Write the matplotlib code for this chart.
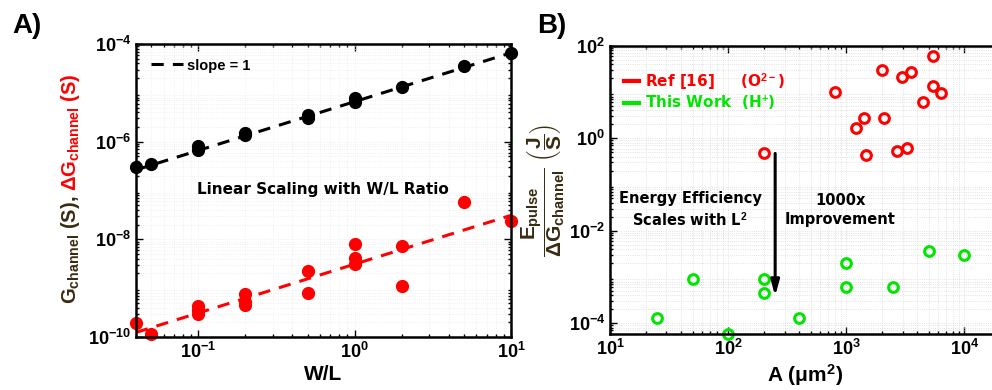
import matplotlib
matplotlib.use("Agg")
import matplotlib.pyplot as plt
from matplotlib.lines import Line2D
from matplotlib.ticker import FuncFormatter
import numpy as np

plt.rcParams["font.family"] = "Liberation Sans"
plt.rcParams["font.weight"] = "bold"
plt.rcParams["axes.labelweight"] = "bold"
plt.rcParams["mathtext.fontset"] = "custom"
plt.rcParams["mathtext.rm"] = "Liberation Sans:bold"
plt.rcParams["mathtext.it"] = "Liberation Sans:bold"
plt.rcParams["mathtext.bf"] = "Liberation Sans:bold"

# panel A data: W/L ratio vs channel conductance
wl_g = [0.04, 0.05, 0.1, 0.1, 0.2, 0.2, 0.5, 0.5, 1, 1, 2, 5, 10]
g_chan = [3.1e-7, 3.5e-7, 8.3e-7, 6.6e-7, 1.5e-6, 1.35e-6, 3.6e-6, 3.0e-6,
          7.9e-6, 6.4e-6, 1.3e-5, 3.5e-5, 6.6e-5]
wl_dg = [0.04, 0.05, 0.1, 0.1, 0.1, 0.2, 0.2, 0.2, 0.5, 0.5, 1, 1, 1, 2, 2, 5, 10]
dg_chan = [1.9e-10, 1.15e-10, 4.4e-10, 3.6e-10, 3.0e-10, 7.5e-10, 5.3e-10, 4.5e-10,
           2.3e-9, 8.1e-10, 7.9e-9, 4.2e-9, 3.1e-9, 7.4e-9, 1.1e-9, 5.9e-8, 2.4e-8]
fit_wl = [0.04, 10]
g_prefactor = 6.6e-6
dg_prefactor = 3.1e-9

# panel B data: area vs energy per conductance change
area_ref = [5470, 2000, 2990, 3560, 800, 5470, 6320, 4440, 1200, 1400, 2090,
            1480, 2700, 3290, 200]
eff_ref = [60, 30, 21.5, 27.5, 9.9, 13.5, 9.4, 6.0, 1.7, 2.7, 2.7, 0.44, 0.53, 0.61, 0.47]
area_work = [25, 50, 100, 200, 200, 400, 1000, 1000, 2500, 5000, 10000]
eff_work = [1.3e-4, 9.1e-4, 5.8e-5, 9.0e-4, 4.5e-4, 1.28e-4, 2.0e-3, 6.2e-4,
            6.0e-4, 3.7e-3, 3.0e-3]

RED = "#ff0000"
GREEN = "#00e600"
BROWN = "#3a2c12"

fig = plt.figure(figsize=(9.92, 3.9), dpi=100)

pow_fmt = FuncFormatter(lambda v, pos: r"$\mathbf{10^{%d}}$" % round(np.log10(v)))


def style(ax, grid_color):
    ax.set_xscale("log")
    ax.set_yscale("log")
    ax.tick_params(which="both", direction="in", top=True, right=True,
                   labelsize=13, width=1)
    ax.tick_params(which="major", length=5)
    ax.tick_params(which="minor", length=2.5)
    for s in ax.spines.values():
        s.set_linewidth(1.8)
    ax.grid(True, which="both", ls=":", color=grid_color, lw=0.6)
    ax.set_axisbelow(True)


# ---- panel A ----
axA = fig.add_axes([136 / 992, 53 / 390, 375 / 992, 293 / 390])
style(axA, "#ececec")
axA.set_xlim(0.04, 10)
axA.set_ylim(1e-10, 1e-4)
axA.set_xticks([0.1, 1, 10])
axA.set_yticks([1e-10, 1e-8, 1e-6, 1e-4])
axA.xaxis.set_major_formatter(pow_fmt)
axA.yaxis.set_major_formatter(pow_fmt)

fx = np.array(fit_wl)
axA.plot(fx, g_prefactor * fx, ls=(0, (4, 3)), color="k", lw=2.2, label="slope = 1")
axA.plot(fx, dg_prefactor * fx, ls=(0, (4, 3)), color=RED, lw=2.2)
axA.plot(wl_g, g_chan, "o", color="k", ms=8.5, clip_on=False)
axA.plot(wl_dg, dg_chan, "o", color=RED, ms=8.5, clip_on=False)

axA.legend(loc="upper left", frameon=False, fontsize=10.5, handlelength=2.2,
           handletextpad=0.3, borderaxespad=0.6)
axA.text(0.63, 1.05e-7, "Linear Scaling with W/L Ratio", ha="center", va="center",
         fontsize=11, family="DejaVu Sans", weight="bold")
axA.set_xlabel("W/L", fontsize=15, labelpad=2)

fig.text(70 / 992, 1 - 250 / 390, r"G$_{\mathregular{channel}}$ (S),", rotation=90,
         ha="center", va="center", fontsize=14.5, color=BROWN)
fig.text(70 / 992, 1 - 132 / 390, r"$\Delta$G$_{\mathregular{channel}}$ (S)", rotation=90,
         ha="center", va="center", fontsize=14.5, color=RED)
fig.text(12 / 992, 1 - 26 / 390, "A)", fontsize=20, weight="bold", va="center")

# ---- panel B ----
axB = fig.add_axes([610 / 992, 55.7 / 390, 390 / 992, 288.5 / 390])
style(axB, "#d9d9d9")
axB.set_xlim(10, 2e4)
axB.set_ylim(5.78e-5, 100)
axB.set_xticks([10, 100, 1000, 10000])
axB.set_yticks([1e-4, 1e-2, 1, 100])
axB.xaxis.set_major_formatter(pow_fmt)
axB.yaxis.set_major_formatter(pow_fmt)

axB.plot(area_ref, eff_ref, "o", mfc="none", mec=RED, mew=2.2, ms=7, clip_on=False)
axB.plot(area_work, eff_work, "o", mfc="none", mec=GREEN, mew=2.2, ms=7, clip_on=False)

axB.annotate("", xy=(250, 3.9e-4), xytext=(250, 0.47),
             arrowprops=dict(arrowstyle="-|>,head_length=0.9,head_width=0.25",
                             color="k", lw=2.2, shrinkA=0, shrinkB=0))
axB.text(47.5, 0.028, "Energy Efficiency\nScales with L$^2$", ha="center",
         va="center", fontsize=10.5, family="DejaVu Sans", weight="bold",
         linespacing=1.3)
axB.text(885, 0.028, "1000x\nImprovement", ha="center", va="center",
         fontsize=10.5, family="DejaVu Sans", weight="bold", linespacing=1.3)

handles = [Line2D([], [], color=RED, lw=3), Line2D([], [], color=GREEN, lw=3)]
labels = ["Ref [16]     (O$^{2-}$)", "This Work  (H$^{+}$)"]
axB.legend(handles, labels, loc="upper left", frameon=False, labelcolor=[RED, GREEN],
           prop=dict(family="DejaVu Sans", weight="bold", size=11),
           handlelength=1.0, handletextpad=0.4, labelspacing=0.05,
           bbox_to_anchor=(0.0, 0.96))

axB.set_xlabel(r"A ($\mathregular{\mu}$m$^2$)", fontsize=15, labelpad=2)
axB.set_ylabel(r"$\dfrac{E_{pulse}}{\Delta G_{channel}}\ \left(\dfrac{J}{S}\right)$",
               fontsize=15, color=BROWN, labelpad=1)
fig.text(537 / 992, 1 - 26 / 390, "B)", fontsize=20, weight="bold", va="center")

fig.savefig("out.png", dpi=100)
